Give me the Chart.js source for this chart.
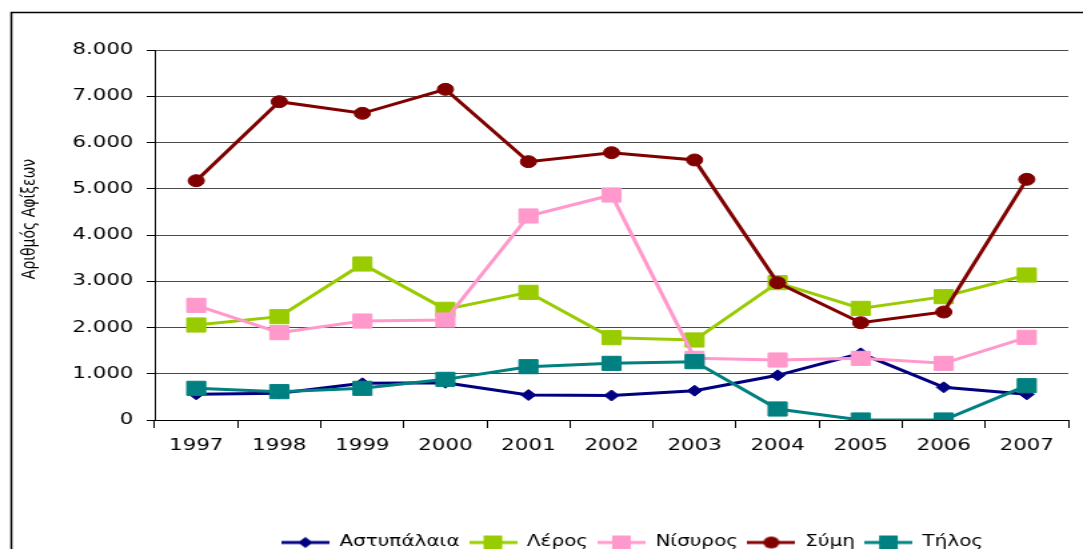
<!DOCTYPE html>
<html lang="el">
<head>
<meta charset="utf-8">
<title>Αριθμός αφίξεων 1997-2007</title>
<script src="https://cdn.jsdelivr.net/npm/chart.js@4.4.1/dist/chart.umd.min.js"></script>
<style>
  html, body { margin: 0; padding: 0; background: #fff; overflow: hidden; }
  /* the original picture is stretched sideways, so the canvas is too */
  #wrap { width: 812px; height: 560px; transform: scaleX(1.33374); transform-origin: 0 0; }
  #chart { display: block; }
</style>
</head>
<body>
<div id="wrap"><canvas id="chart" width="812" height="560"></canvas></div>
<script>
// --- Datos ---
const years = ['1997', '1998', '1999', '2000', '2001', '2002', '2003', '2004', '2005', '2006', '2007'];
const seriesNames = ['Αστυπάλαια', 'Λέρος', 'Νίσυρος', 'Σύμη', 'Τήλος'];

const astypalaia = [555, 577, 793, 807, 540, 530, 634, 966, 1441, 706, 555];
const leros = [2054, 2234, 3373, 2393, 2760, 1780, 1730, 2970, 2414, 2667, 3135];
const nisyros = [2479, 1888, 2140, 2162, 4411, 4865, 1333, 1297, 1333, 1225, 1787];
const symi = [5174, 6883, 6631, 7150, 5586, 5780, 5622, 2968, 2104, 2335, 5204];
const tilos = [685, 613, 685, 879, 1153, 1225, 1261, 238, 0, 0, 742];

const yTitle = 'Αριθμός Αφίξεων';
const yMin = 0;
const yMax = 8000;
const yStep = 1000;

// --- Estilos ---
const colors = ['#000080', '#99CC00', '#FF99CC', '#800000', '#008080'];
const shapes = ['rectRot', 'rect', 'rect', 'circle', 'rect'];
const radii = [5.5, 10, 10, 6, 10];

// 8000 -> "8.000"
function fmt(v) {
  return String(v).replace(/\B(?=(\d{3})+(?!\d))/g, '.');
}

// legend icon: line with the marker in the middle
function legendIcon(color, shape) {
  const c = document.createElement('canvas');
  c.width = 36;
  c.height = 16;
  const g = c.getContext('2d');
  g.strokeStyle = color;
  g.fillStyle = color;
  g.lineWidth = 3;
  g.beginPath();
  g.moveTo(0, 8);
  g.lineTo(36, 8);
  g.stroke();
  g.beginPath();
  if (shape === 'rectRot') {
    g.moveTo(18, 2.5);
    g.lineTo(23.5, 8);
    g.lineTo(18, 13.5);
    g.lineTo(12.5, 8);
    g.closePath();
  } else if (shape === 'circle') {
    g.arc(18, 8, 6, 0, Math.PI * 2);
  } else {
    g.rect(11, 1, 14, 14);
  }
  g.fill();
  return c;
}

const seriesData = [astypalaia, leros, nisyros, symi, tilos];
const icons = seriesData.map((_, i) => legendIcon(colors[i], shapes[i]));

const datasets = seriesData.map((values, i) => ({
  label: seriesNames[i],
  data: values,
  borderColor: colors[i],
  backgroundColor: colors[i],
  borderWidth: 3,
  pointStyle: shapes[i],
  pointRadius: radii[i],
  pointHoverRadius: radii[i],
  pointBackgroundColor: colors[i],
  pointBorderColor: colors[i],
  pointBorderWidth: 1,
  tension: 0,
  order: seriesData.length - i, // the later series sit on top
}));

// outer frame of the chart (only left and top edges are visible)
const framePlugin = {
  id: 'frame',
  beforeDraw(chart) {
    const ctx = chart.ctx;
    ctx.save();
    ctx.strokeStyle = '#000';
    ctx.lineWidth = 1.5;
    ctx.beginPath();
    ctx.moveTo(8.5, chart.height);
    ctx.lineTo(8.5, 12.5);
    ctx.lineTo(chart.width, 12.5);
    ctx.stroke();
    ctx.restore();
  },
};

// rotated title of the y axis
const yTitlePlugin = {
  id: 'yTitle',
  afterDraw(chart) {
    const ctx = chart.ctx;
    ctx.save();
    ctx.translate(22.5, 219);
    ctx.rotate(-Math.PI / 2);
    ctx.font = '14px "DejaVu Sans"';
    ctx.fillStyle = '#000';
    ctx.textAlign = 'center';
    ctx.textBaseline = 'middle';
    ctx.fillText(yTitle, 0, 0);
    ctx.restore();
  },
};

// move the legend a bit to the right, as in the original
const legendShiftPlugin = {
  id: 'legendShift',
  afterLayout(chart) {
    if (chart.legend) {
      chart.legend.left += 71;
      chart.legend.right += 71;
    }
  },
};

new Chart(document.getElementById('chart'), {
  type: 'line',
  data: {
    labels: years,
    datasets: datasets,
  },
  options: {
    responsive: false,
    animation: false,
    devicePixelRatio: 1,
    layout: {
      padding: { left: 0, right: 6, top: 50, bottom: 0 },
    },
    plugins: {
      tooltip: { enabled: false },
      legend: {
        position: 'bottom',
        labels: {
          usePointStyle: true,
          pointStyleWidth: 36,
          padding: 7,
          color: '#000',
          font: { family: 'DejaVu Sans', size: 15 },
          generateLabels: (chart) =>
            chart.data.datasets.map((ds, i) => ({
              text: ds.label,
              pointStyle: icons[i],
              fillStyle: ds.borderColor,
              strokeStyle: ds.borderColor,
              fontColor: '#000',
              lineWidth: 0,
              hidden: false,
              datasetIndex: i,
            })),
        },
      },
    },
    scales: {
      x: {
        offset: true,
        afterFit(scale) {
          const lg = scale.chart.legend;
          scale.height = scale.chart.height - 420 - (lg ? lg.height : 0);
        },
        grid: {
          offset: true,
          drawOnChartArea: false,
          drawTicks: true,
          tickLength: 8,
          color: '#000',
        },
        border: { color: '#000', width: 1 },
        ticks: {
          color: '#000',
          padding: 8,
          maxRotation: 0,
          autoSkip: false,
          font: { family: 'DejaVu Sans', size: 16 },
        },
      },
      y: {
        min: yMin,
        max: yMax,
        afterFit(scale) {
          scale.width = 116;
        },
        grid: {
          color: '#4a4a4a',
          lineWidth: 1,
          tickLength: 6,
          tickColor: '#000',
        },
        border: { color: '#000', width: 1 },
        ticks: {
          stepSize: yStep,
          color: '#000',
          padding: 10,
          font: { family: 'DejaVu Sans', size: 16 },
          callback: (v) => fmt(v),
        },
      },
    },
  },
  plugins: [framePlugin, yTitlePlugin, legendShiftPlugin],
});
</script>
</body>
</html>
